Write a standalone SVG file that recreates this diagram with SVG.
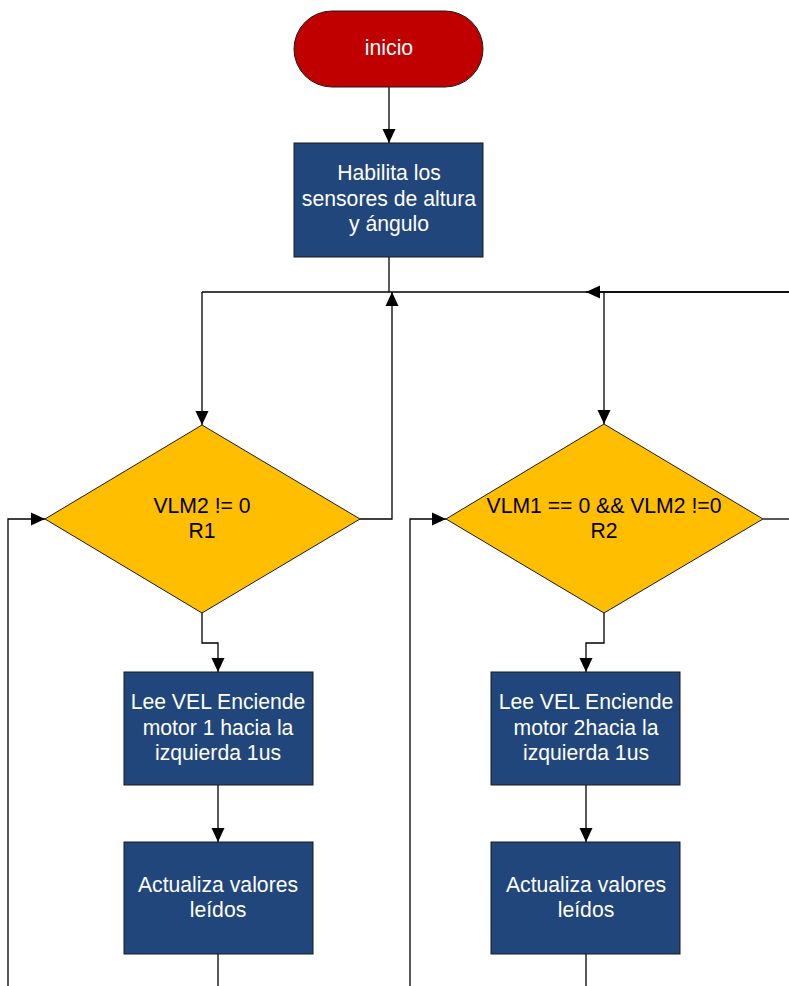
<svg xmlns="http://www.w3.org/2000/svg" width="789" height="986" viewBox="0 0 789 986">
<style>
.ln{fill:none;stroke:#000;stroke-width:1.3}
.box{fill:#21467B;stroke:#1a1a1a;stroke-width:1}
.dia{fill:#FFBF00;stroke:#1a1a1a;stroke-width:1}
.term{fill:#C00000;stroke:#1a1a1a;stroke-width:1}
.tw{font-family:"Liberation Sans",Arial,sans-serif;font-size:21.2px;fill:#fff;text-anchor:middle}
.tb{font-family:"Liberation Sans",Arial,sans-serif;font-size:21.2px;fill:#000;text-anchor:middle}
</style>
<defs>
<marker id="ah" markerUnits="userSpaceOnUse" markerWidth="14" markerHeight="14" viewBox="0 0 14 14" refX="14" refY="7" orient="auto">
<path d="M0,0.5 L14,7 L0,13.5 Z" fill="#000"/>
</marker>
</defs>
<rect width="789" height="986" fill="#fff"/>
<g id="connectors">
<path class="ln" d="M389,87 V143" marker-end="url(#ah)"/>
<path class="ln" d="M389,257 V292"/>
<path class="ln" d="M202,292 H789"/>
<path class="ln" d="M202,292 V425" marker-end="url(#ah)"/>
<path class="ln" d="M360,519 H392 V292" marker-end="url(#ah)"/>
<path class="ln" d="M789,292 H586" marker-end="url(#ah)"/>
<path class="ln" d="M604,292 V424" marker-end="url(#ah)"/>
<path class="ln" d="M763,519 H789"/>
<path class="ln" d="M8,986 V519 H45" marker-end="url(#ah)"/>
<path class="ln" d="M410,986 V519 H446" marker-end="url(#ah)"/>
<path class="ln" d="M202,613 V643 H218 V672" marker-end="url(#ah)"/>
<path class="ln" d="M218,785 V842" marker-end="url(#ah)"/>
<path class="ln" d="M218,954 V986"/>
<path class="ln" d="M604,613 V643 H586 V672" marker-end="url(#ah)"/>
<path class="ln" d="M586,785 V842" marker-end="url(#ah)"/>
<path class="ln" d="M586,954 V986"/>
</g>
<g id="inicio">
<rect class="term" x="294" y="11" width="189" height="76" rx="38" ry="38"/>
<text class="tw" x="389" y="55">inicio</text>
</g>
<g id="habilita">
<rect class="box" x="294" y="143" width="189" height="114"/>
<text class="tw" x="389" y="180">Habilita los</text>
<text class="tw" x="389" y="206">sensores de altura</text>
<text class="tw" x="389" y="231">y ángulo</text>
</g>
<g id="r1">
<polygon class="dia" points="202,425 360,519 202,613 45,519"/>
<text class="tb" x="202" y="513">VLM2 != 0</text>
<text class="tb" x="202" y="538">R1</text>
</g>
<g id="r2">
<polygon class="dia" points="604,424 763,519 604,613 446,519"/>
<text class="tb" x="604" y="513">VLM1 == 0 &amp;&amp; VLM2 !=0</text>
<text class="tb" x="604" y="538">R2</text>
</g>
<g id="motor1">
<rect class="box" x="124" y="672" width="189" height="113"/>
<text class="tw" x="218" y="709">Lee VEL Enciende</text>
<text class="tw" x="218" y="735">motor 1 hacia la</text>
<text class="tw" x="218" y="760">izquierda 1us</text>
</g>
<g id="actualiza1">
<rect class="box" x="124" y="842" width="189" height="112"/>
<text class="tw" x="218" y="892">Actualiza valores</text>
<text class="tw" x="218" y="917">leídos</text>
</g>
<g id="motor2">
<rect class="box" x="491" y="672" width="189" height="113"/>
<text class="tw" x="586" y="709">Lee VEL Enciende</text>
<text class="tw" x="586" y="735">motor 2hacia la</text>
<text class="tw" x="586" y="760">izquierda 1us</text>
</g>
<g id="actualiza2">
<rect class="box" x="491" y="842" width="189" height="112"/>
<text class="tw" x="586" y="892">Actualiza valores</text>
<text class="tw" x="586" y="917">leídos</text>
</g>
</svg>
